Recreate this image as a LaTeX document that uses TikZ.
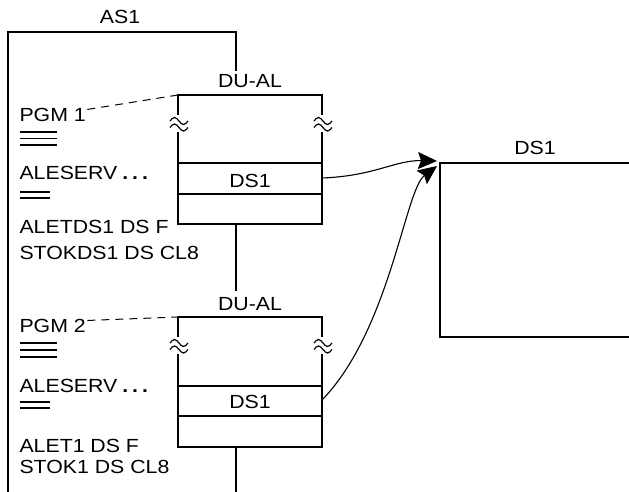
\documentclass[tikz,border=0pt]{standalone}
\usepackage{fontspec}
\setmainfont{Liberation Sans}[FakeStretch=1.12]
\usetikzlibrary{arrows.meta}
\begin{document}
\begin{tikzpicture}[x=1pt,y=-1pt,line width=1.1pt,
  lbl/.style={font=\fontsize{19}{21}\selectfont,inner sep=0pt},
  lft/.style={lbl,anchor=base west},
  ctr/.style={lbl,anchor=base},
  conn/.style={-{Stealth[length=19pt,width=17pt,inset=3pt]}},
  dsh/.style={dashed,dash pattern=on 8pt off 6pt},
  wavy/.pic={
    \fill[white] (-10,-8) rectangle (10,9);
    \draw[line width=1.2pt] (-9,-2) sin (-4.5,-5.5) cos (0,-2) sin (4.5,1.5) cos (9,-2);
    \draw[line width=1.2pt] (-9,4.5) sin (-4.5,1) cos (0,4.5) sin (4.5,8) cos (9,4.5);
  }]
\useasboundingbox (0,0) rectangle (629,492);
% AS1 frame
\node[ctr] (as1) at (120,24) {AS1};
\coordinate (fbl) at (8,492);
\coordinate (ftl) at (8,32);
\coordinate (ftr) at (236,32);
\node[ctr] (du1) at (250,88) {DU-AL};
\draw (fbl) -- (ftl) -- (ftr) -- (236,71);
% box 1
\draw (178,163) -- (178,95) -- (322,95) -- (322,224) -- (178,224) -- cycle;
\draw (178,163) -- (322,163);
\draw (178,194) -- (322,194);
\pic at (179,123) {wavy};
\pic at (323,123) {wavy};
\node[ctr] (ds1a) at (250,187) {DS1};
\coordinate (b1top) at (178,95);
% link
\draw (236,224) -- (236,291);
\node[ctr] (du2) at (250,310) {DU-AL};
% box 2
\draw (178,386) -- (178,317) -- (322,317) -- (322,447) -- (178,447) -- cycle;
\draw (178,386) -- (322,386);
\draw (178,416) -- (322,416);
\pic at (179,345) {wavy};
\pic at (323,345) {wavy};
\node[ctr] (ds1b) at (250,408) {DS1};
\coordinate (b2top) at (178,317);
\draw (236,447) -- (236,492);
% left texts
\node[lft] (pgm1) at (19,122) {PGM 1};
\draw (20,132) -- (57,132) (20,138.5) -- (57,138.5) (20,145) -- (57,145);
\node[lft] (ale1) at (19,179) {ALESERV\hspace{5pt}\textbf{.}\hspace{4pt}\textbf{.}\hspace{4pt}\textbf{.}};
\draw (20,192) -- (50,192) (20,198) -- (50,198);
\node[lft] (alet1) at (19,233) {ALETDS1 DS F};
\node[lft] (stok1) at (19,259) {STOKDS1 DS CL8};
\node[lft] (pgm2) at (19,332) {PGM 2};
\draw (20,343) -- (57,343) (20,350) -- (57,350) (20,357) -- (57,357);
\node[lft] (ale2) at (19,392) {ALESERV\hspace{5pt}\textbf{.}\hspace{4pt}\textbf{.}\hspace{4pt}\textbf{.}};
\draw (20,402) -- (50,402) (20,408) -- (50,408);
\node[lft] (alet2) at (19,452) {ALET1 DS F};
\node[lft] (stok2) at (19,473) {STOK1 DS CL8};
\draw[dsh,line width=1pt] (pgm1.east) ++(1,-6) -- (b1top);
\draw[dsh,line width=1pt] (pgm2.east) ++(1,-5) -- (b2top);
% right DS1
\node[ctr] (ds1r) at (535,154) {DS1};
\draw (629,163) -- (440,163) -- (440,337) -- (629,337);
\coordinate (tip1) at (437,161);
\coordinate (tip2) at (437,166);
\coordinate (s1) at (322,178);
\coordinate (s2) at (322,400);
\draw[conn] (s1) .. controls (375,176) and (395,160) .. (tip1);
\draw[conn] (s2) .. controls (390,330) and (405,190) .. (tip2);
\end{tikzpicture}
\end{document}
